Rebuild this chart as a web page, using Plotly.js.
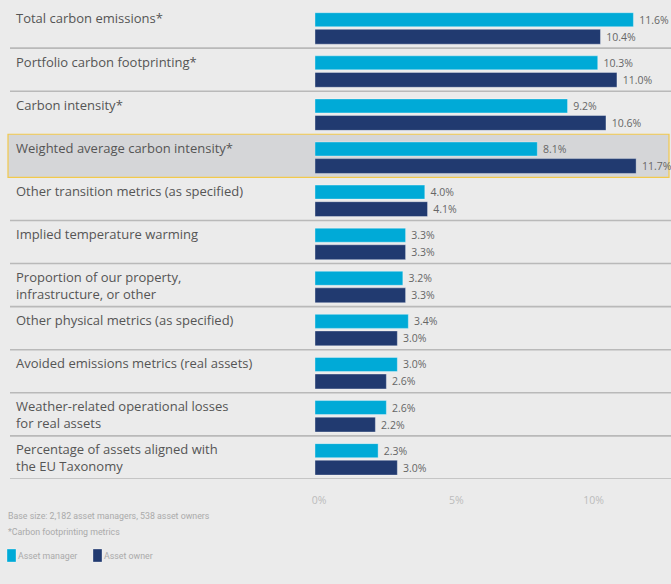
<!DOCTYPE html>
<html>
<head>
<meta charset="utf-8">
<script src="https://cdn.plot.ly/plotly-3.0.1.min.js"></script>
<style>
html,body{margin:0;padding:0;background:#ebebeb;}
#chart{width:671px;height:584px;}
</style>
</head>
<body>
<div id="chart"></div>
<script>
var categories = [
  "Total carbon emissions*",
  "Portfolio carbon footprinting*",
  "Carbon intensity*",
  "Weighted average carbon intensity*",
  "Other transition metrics (as specified)",
  "Implied temperature warming",
  "Proportion of our property,<br>infrastructure, or other",
  "Other physical metrics (as specified)",
  "Avoided emissions metrics (real assets)",
  "Weather-related operational losses<br>for real assets",
  "Percentage of assets aligned with<br>the EU Taxonomy"
];
var assetManager = [11.6, 10.3, 9.2, 8.1, 4.0, 3.3, 3.2, 3.4, 3.0, 2.6, 2.3];
var assetOwner   = [10.4, 11.0, 10.6, 11.7, 4.1, 3.3, 3.3, 3.0, 2.6, 2.2, 3.0];
var seriesNames = ["Asset manager", "Asset owner"];
var seriesColors = ["#00aad7", "#213a70"];
var tickValues = [0, 5, 10];
var tickLabels = ["0%", "5%", "10%"];
var highlightIndex = 3;

var W = 671, H = 584;
var plotLeft = 315, plotTop = 5, plotBottom = 479;
var pxPerPct = 27.45;
var narrow = 'Roboto, sans-serif';

var idx = categories.map(function(_, i){ return i; });

var traceManager = {
  type: 'bar', orientation: 'h', name: seriesNames[0],
  x: assetManager,
  y: idx.map(function(i){ return i - 0.158; }),
  width: 0.325,
  marker: {color: seriesColors[0], line: {color: 'rgba(255,255,255,0.35)', width: 1}},
  texttemplate: '\u00a0%{x:.1f}%', textposition: 'outside', cliponaxis: false,
  textfont: {family: 'Open Sans, sans-serif', size: 10.5, color: '#666666'},
  hoverinfo: 'x', showlegend: false
};
var traceOwner = {
  type: 'bar', orientation: 'h', name: seriesNames[1],
  x: assetOwner,
  y: idx.map(function(i){ return i + 0.237; }),
  width: 0.345,
  marker: {color: seriesColors[1], line: {color: 'rgba(255,255,255,0.35)', width: 1}},
  texttemplate: '\u00a0%{x:.1f}%', textposition: 'outside', cliponaxis: false,
  textfont: {family: 'Open Sans, sans-serif', size: 10.5, color: '#666666'},
  hoverinfo: 'x', showlegend: false
};

var shapes = [];
shapes.push({
  type: 'rect', xref: 'paper', yref: 'y', layer: 'below',
  x0: 8/W, x1: 669/W, y0: highlightIndex - 0.5, y1: highlightIndex + 0.5,
  fillcolor: '#d5d6d8', line: {color: '#f2c94c', width: 1.2}
});
for (var i = 0; i < categories.length; i++) {
  var yb = i + 0.5;
  if (i === highlightIndex || i === highlightIndex - 1) continue;
  shapes.push({
    type: 'line', xref: 'paper', yref: 'y', layer: 'below',
    x0: 10/W, x1: 1, y0: yb, y1: yb,
    line: {color: '#b9b9b9', width: 1.6}
  });
}

var annotations = categories.map(function(c, i){
  return {
    text: c, xref: 'paper', yref: 'y', x: 14/W, y: i - 0.5 + 2.5/43.1,
    xanchor: 'left', yanchor: 'top', showarrow: false, align: 'left',
    font: {family: 'Open Sans, sans-serif', size: 13, color: '#555555'}
  };
});
annotations.push({
  text: 'Base size: 2,182 asset managers, 538 asset owners',
  xref: 'paper', yref: 'paper', x: 6/W, y: 1 - 516/H, xanchor: 'left', yanchor: 'middle',
  showarrow: false, font: {family: narrow, size: 8.8, color: '#aaaaaa'}
});
annotations.push({
  text: '*Carbon footprinting metrics',
  xref: 'paper', yref: 'paper', x: 6/W, y: 1 - 532/H, xanchor: 'left', yanchor: 'middle',
  showarrow: false, font: {family: narrow, size: 8.8, color: '#aaaaaa'}
});
var legendX = [7, 93];
for (var k = 0; k < 2; k++) {
  shapes.push({
    type: 'rect', xref: 'paper', yref: 'paper',
    x0: legendX[k]/W, x1: (legendX[k] + 9)/W, y0: 1 - 562/H, y1: 1 - 549/H,
    fillcolor: seriesColors[k], line: {color: 'rgba(255,255,255,0.4)', width: 0.8}
  });
  annotations.push({
    text: seriesNames[k], xref: 'paper', yref: 'paper',
    x: (legendX[k] + 9)/W, y: 1 - 556/H, xanchor: 'left', yanchor: 'middle',
    showarrow: false, font: {family: narrow, size: 8.8, color: '#aaaaaa'}
  });
}

var layout = {
  width: W, height: H,
  paper_bgcolor: '#ebebeb', plot_bgcolor: 'rgba(0,0,0,0)',
  margin: {l: 0, r: 0, t: 0, b: 0, autoexpand: false},
  barmode: 'overlay',
  showlegend: false,
  xaxis: {
    domain: [plotLeft/W, 1],
    range: [0, (W - plotLeft)/pxPerPct],
    tickvals: tickValues, ticktext: tickLabels,
    showgrid: false, zeroline: false, showline: false,
    ticks: 'outside', ticklen: 11, tickcolor: 'rgba(0,0,0,0)',
    ticklabelshift: 4,
    tickfont: {family: 'Open Sans, sans-serif', size: 10.5, color: '#bbbbbb'},
    fixedrange: true
  },
  yaxis: {
    domain: [1 - plotBottom/H, 1 - plotTop/H],
    range: [categories.length - 0.5, -0.5],
    showticklabels: false, showgrid: false, zeroline: false, showline: false,
    fixedrange: true
  },
  shapes: shapes,
  annotations: annotations,
  font: {family: 'Open Sans, sans-serif'}
};

Plotly.newPlot('chart', [traceManager, traceOwner], layout, {displayModeBar: false, staticPlot: true});
</script>
</body>
</html>
